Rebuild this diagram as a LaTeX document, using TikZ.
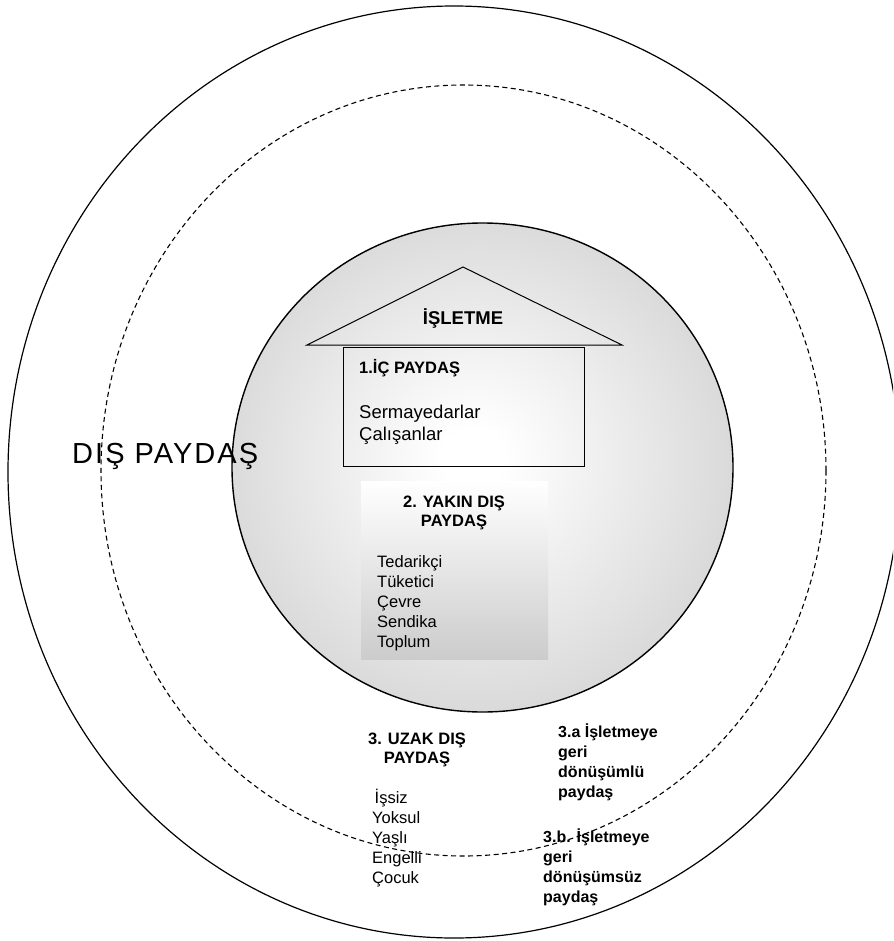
\documentclass[tikz,border=0pt]{standalone}
\usepackage{fontspec}
\setmainfont{Liberation Sans}
\usetikzlibrary{positioning,calc}
\definecolor{discgray}{RGB}{192,192,192}
\definecolor{boxgray}{RGB}{204,204,204}
\pgfdeclareradialshading{discshade}{\pgfpoint{-1bp}{1bp}}{color(0bp)=(white); color(3bp)=(white); color(41bp)=(discgray); color(50bp)=(discgray)}

\begin{document}
\begin{tikzpicture}[x=1pt,y=-1pt,
    ring/.style={line width=1.2pt},
    ringdash/.style={line width=1.1pt, dash pattern=on 5pt off 3.5pt},
    house/.style={line width=1pt},
    lbl/.style={inner sep=0pt, align=left, font=\fontsize{16.5}{20}\selectfont},
    biglbl/.style={inner sep=0pt, align=left, font=\fontsize{18.5}{22}\selectfont},
    boldlbl/.style={inner sep=0pt, align=left, font=\fontsize{16.5}{18.8}\selectfont\bfseries},
    sidelbl/.style={inner sep=0pt, align=left, font=\fontsize{16}{19.7}\selectfont\bfseries}]
  \useasboundingbox (0,0) rectangle (893,941);
  \clip (0,0) rectangle (893,941);
  % Outer and dashed rings
  \draw[ring] (454,472) ellipse [x radius=446, y radius=466];
  \draw[ringdash] (463.5,470.5) ellipse [x radius=362.5, y radius=385.5];
  % Shaded disc
  \draw[line width=1.4pt, shading=discshade] (482.5,467.5) ellipse [x radius=250.5, y radius=244.5];
  % House: roof and body
  \coordinate (roofL) at (307,345);
  \coordinate (roofT) at (463,267);
  \coordinate (roofR) at (622,345);
  \draw[house] (roofL) -- (roofT) -- (roofR) -- cycle;
  \node[draw, house, anchor=north west, minimum width=241, minimum height=119] (icbox) at (343,347) {};
  \node[inner sep=0pt, anchor=base, font=\fontsize{18.5}{22}\selectfont\bfseries] (isletme) at (463,324) {İŞLETME};
  \node[boldlbl, anchor=base west] (ichead) at (359,373) {1.İÇ PAYDAŞ};
  \node[biglbl, anchor=base west] (iclist) at (359,440) {Sermayedarlar\\Çalışanlar};
  % Near external stakeholders (base = last line)
  \shade[top color=white, bottom color=boxgray] (361,481) rectangle (548,659);
  \node[boldlbl, align=center, anchor=base] (yakinhead) at (454,526) {2. YAKIN DIŞ\\PAYDAŞ};
  \node[lbl, anchor=base west] (yakinlist) at (377,647) {Tedarikçi\\Tüketici\\Çevre\\Sendika\\Toplum};
  % Far external stakeholders
  \node[boldlbl, align=center, anchor=base, font=\fontsize{16.5}{19}\selectfont\bfseries] (uzakhead) at (417,763) {3. UZAK DIŞ\\PAYDAŞ};
  \node[lbl, anchor=base west] (uzaklist) at (372,883) {\hspace*{2.5pt}İşsiz\\Yoksul\\Yaşlı\\Engelli\\Çocuk};
  \node[sidelbl, anchor=base west] (donuslu) at (558,797) {3.a İşletmeye\\geri\\dönüşümlü\\paydaş};
  \node[sidelbl, anchor=base west] (donussuz) at (543,902) {3.b. İşletmeye\\geri\\dönüşümsüz\\paydaş};
  \node[inner sep=0pt, anchor=base west, font=\fontsize{29}{32}\selectfont\addfontfeature{LetterSpace=7}] (dis) at (72,463) {DIŞ PAYDAŞ};
\end{tikzpicture}
\end{document}
